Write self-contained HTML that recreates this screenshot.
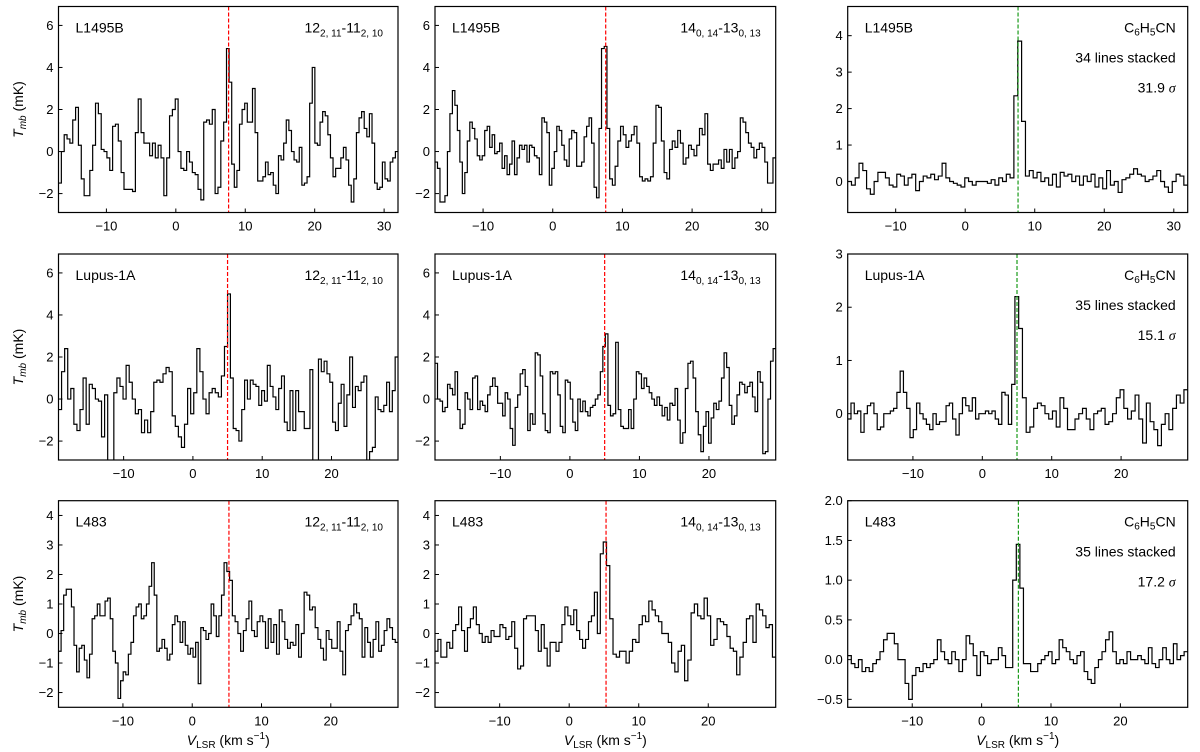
<!DOCTYPE html>
<html><head><meta charset="utf-8"><style>
body{margin:0;background:#fff;}
svg{display:block;font-family:"Liberation Sans","DejaVu Sans",sans-serif;}
</style></head><body>
<svg id="fig" width="1200" height="752" viewBox="0 0 1200 752" xmlns="http://www.w3.org/2000/svg"></svg>
<script>
// ---- data (Tmb in mK) ----
const l1495bLine1 = [-1.5,0,0.8,0.6,0.4,1.5,2.1,0.3,-1.3,-2.1,-2.1,-0.9,0.3,2.3,1.8,0.1,0,-0.3,-0.9,1.2,1.3,0.5,-1.0,-1.8,-1.8,-1.8,-1.9,0.9,2.5,0.9,0.4,0.4,-0.2,0.4,-0.3,0.3,-0.3,-2.1,-0.3,1.7,2.0,2.5,0,-0.8,-0.9,0,-0.5,-1.0,-1.1,-1.8,-2.3,1.4,1.5,1.3,2.0,-2.0,-1.7,0.5,1.4,4.9,3.3,-0.6,-1.7,-0.9,1.3,2.0,2.3,1.4,1.4,3.0,0.9,-1.4,-1.4,-1.2,-0.5,-1.1,-1.0,-1.6,-2.0,-0.2,-0.4,0.4,1.5,1.0,0,-0.4,-0.5,0.2,-1.6,-1.5,-1.2,2.3,4.0,0.4,0.3,1.4,1.9,1.7,0.8,-0.3,-1.2,-0.8,-0.8,-0.3,0.2,-0.4,-1.6,-2.4,-1.3,0.9,1.6,1.9,1.1,0.7,1.8,0.4,-1.5,-1.8,-1.7,-0.5,-1.3,-1.4,-0.5,-0.3,0];
const l1495bLine2 = [-0.5,-0.8,-2.4,-2.4,-2.1,0,1.8,2.9,2.2,1.0,-0.5,-2.0,-1.0,0.5,1.4,1.1,0.6,-0.2,-0.4,-0.2,1.0,1.2,0.2,0.8,-0.1,0,0.4,-0.8,-0.2,-1.1,-0.6,0.5,-1.1,-0.3,0.3,0.1,0.3,-0.5,0.3,0.2,-0.2,-0.3,-1.1,1.6,1.4,0.9,-1.6,-0.8,0,1.2,1.0,0.3,-0.4,-0.7,0.6,1.0,0.9,-0.7,-0.7,-0.5,0.7,1.2,1.6,0.4,-1.7,-2.2,1.1,4.9,5.0,1.1,-1.3,-1.6,-0.7,0.5,1.2,0.8,0.2,0.5,0.8,1.2,0.4,-1.2,-1.4,-1.3,-1.4,-1.2,0.4,2.2,2.1,0.5,-1.0,-1.3,0.1,0.5,0.2,1.0,0.4,-0.6,-0.3,0.3,0.1,-0.2,0.3,1.1,0.8,1.8,-0.6,-0.9,-0.6,-0.6,-0.4,-0.8,0.1,-0.5,0.1,-0.8,-0.3,0,1.6,1.4,0.9,0.4,0.2,-0.3,0.1,0.4,0.2,-0.5,-1.5,-1.5,-0.3];
const l1495bStack = [0.0,-0.1,0.1,0.5,0.3,-0.2,-0.35,0.0,0.25,0.25,0.1,-0.1,-0.15,0.2,0.15,-0.1,0.1,0.2,-0.25,0.0,0.15,0.1,0.2,0.05,0.15,0.5,0.1,0.0,-0.05,-0.1,-0.15,0.1,0.0,-0.1,0.0,0.0,0.0,-0.05,0.05,-0.1,0.1,0.0,0.2,0.1,2.35,3.85,1.65,0.15,0.3,0.1,0.25,0.0,0.1,-0.1,0.2,-0.15,0.25,0.15,0.2,0.0,0.15,-0.1,0.15,0.0,0.2,-0.15,0.1,-0.2,0.3,-0.1,0.0,-0.3,0.05,0.1,0.2,0.35,0.2,0.15,0.0,0.05,0.15,0.3,0.0,-0.15,-0.3,0.0,0.2,0.15,-0.1];
const lupusLine1 = [-0.5,1.3,2.4,0,0.5,-1.2,-1.5,-0.5,1.0,-1.2,0.7,0.5,0.0,-0.1,-1.8,0.2,-4,-4,0.3,1.0,0.6,0.0,1.6,0.8,0.0,-0.7,-0.5,-1.6,-1.0,-1.6,-0.6,0.8,0.9,0.8,1.2,1.5,1.3,-0.8,-1.3,-1.8,-2.3,-1.2,0.5,-0.7,0.3,2.4,1.3,0.0,-0.7,0.3,0.5,0.3,0.1,1.1,2.5,5.0,1.0,-1.4,-1.5,-2.0,-0.5,0.9,0.0,0.9,0.7,0.6,-0.3,0.4,-0.1,1.6,0.6,0.1,-0.5,0.5,1.1,-1.1,-1.5,0.4,-1.5,0.4,-0.6,-0.6,-1.4,-1.4,1.4,-4,-4,1.9,1.3,1.8,1.2,0.8,-1.1,-1.5,-0.2,0.7,-1.3,0.2,2.0,-0.4,0.6,0.4,0.8,1.1,-4,-2.5,-2.3,0.1,-0.5,-0.6,-0.3,0.8,-0.6,0.4,2.0];
const lupusLine2 = [1.7,0.0,-0.1,-0.6,-0.4,0.7,0.5,0.2,1.3,-0.5,-1.4,-1.2,0.3,0.0,-0.5,1.0,1.1,-0.5,-0.1,-0.3,-0.6,0.2,0.6,1.0,0.6,-0.2,-0.2,-0.8,0.3,0.0,-1.4,-2.2,-0.4,0.2,1.2,1.4,0.6,-1.5,-0.7,-1.2,2.2,2.1,1.1,-0.7,-1.5,-1.6,1.3,1.2,1.3,0.2,-1.3,-1.6,0.9,0.8,0.0,-1.1,-1.5,0.0,-0.6,-0.1,-0.6,-0.8,-0.4,-0.3,0.0,0.2,1.3,2.5,3.1,-0.3,-0.8,-0.7,2.7,-0.5,-1.3,-1.4,-1.4,-0.5,-1.4,0.0,1.3,1.2,0.5,1.0,0.6,0.3,0.0,-0.3,0.1,-0.3,-0.8,-0.4,-1.0,-0.2,-0.3,0.5,-1.0,-2.1,-1.6,0.5,1.7,1.8,1.0,-0.6,-1.7,-2.5,-1.3,-0.6,-2.1,-0.9,-0.2,-0.5,-0.1,1.0,2.2,1.5,-0.3,-1.2,-0.8,0.2,0.8,0.7,0.3,0.6,0.8,0.1,-0.6,1.3,0.8,-2.6,-2.5,0.0,1.8,2.4];
const lupusStack = [-0.1,0.2,0.0,0.05,-0.35,0.0,0.15,0.2,0.0,-0.3,-0.25,0.0,0.0,0.05,0.1,0.4,0.8,0.4,0.1,-0.45,-0.3,0.2,0.0,-0.1,-0.2,-0.3,0.0,-0.2,-0.15,-0.15,0.15,0.2,-0.1,-0.4,0.0,0.3,0.15,0.05,0.3,-0.1,0.0,0.0,0.05,0.0,0.05,-0.1,-0.2,0.4,0.35,-0.2,0.55,2.2,1.6,0.3,-0.35,-0.25,0.1,0.2,0.15,0.0,-0.1,0.05,-0.25,0.3,0.1,-0.3,-0.3,-0.1,0.0,0.1,-0.1,-0.3,0.0,0.05,0.1,-0.2,-0.15,0.0,0.3,0.45,0.1,-0.1,0.05,0.35,-0.1,-0.55,0.2,-0.15,-0.3,-0.6,-0.2,0.0,-0.3,0.1,0.35,0.2,0.45];
const l483Line1 = [-0.6,0.1,1.3,1.5,1.5,0.9,-0.4,-1.3,-0.5,-0.4,-0.9,-1.5,-0.7,0.5,0.6,1.0,0.6,0.6,1.1,1.2,0.5,-0.6,-1.0,-2.2,-1.6,-1.3,-1.4,-0.7,-0.3,0.6,0.9,1.0,0.5,0.6,1.0,1.6,2.4,1.3,-0.6,-0.5,-0.2,-0.5,-0.9,-0.7,0.3,0.6,0.4,-0.3,0.4,-0.4,-0.7,-0.5,-0.8,-0.3,-1.7,0.2,0.1,-0.2,0.0,1.0,0.6,-0.1,0.6,1.3,2.4,2.1,1.8,0.6,0.4,0.0,-0.6,0.1,0.5,1.1,0.1,-0.1,0.4,0.6,0.4,-0.5,0.5,-0.3,0.3,-0.7,0.8,0.4,-0.2,-0.5,-0.3,-0.4,0.3,-0.8,0.0,1.4,1.3,0.8,0.9,0.2,-0.2,-0.5,-0.9,0.1,-0.2,-0.5,-0.5,0.4,-0.6,-1.4,0.1,0.3,0.6,1.0,0.7,0.5,-0.8,0.2,-0.3,-0.8,-0.2,0.4,-0.6,-0.4,0.1,0.5,0.2,-0.2,-0.3];
const l483Line2 = [-0.6,-0.2,-0.8,-0.8,-0.3,-0.5,0.1,0.3,0.9,0.1,-0.6,0.2,0.5,0.9,0.3,0.0,-0.3,-0.1,-0.3,0.1,-0.1,-0.1,0.3,0.2,-0.2,-0.1,0.4,-0.5,-1.2,-1.1,0.5,0.6,0.6,0.6,0.1,-0.6,0.3,-0.5,-1.1,-0.3,-0.3,-0.6,-0.3,0.3,0.9,0.6,0.3,0.8,0.1,-0.2,-0.5,-0.2,0.4,0.6,1.4,0.0,2.7,3.1,2.3,0.5,-0.7,-0.8,-0.6,-0.6,-1.0,-0.6,-0.2,-0.3,0.3,0.6,0.4,1.1,0.8,0.6,0.4,0.0,0.0,-0.3,-1.0,-1.3,-0.6,-0.4,-1.6,-0.9,0.7,1.0,0.6,0.5,1.2,0.6,-0.4,-0.2,0.5,0.4,0.3,-0.1,-0.5,-0.6,-1.4,-0.8,-0.3,0.5,0.6,-0.3,1.0,0.8,0.6,0.2,0.3,-0.8];
const l483Stack = [0.05,-0.05,-0.1,0.0,-0.15,-0.1,-0.15,-0.05,0.0,0.1,0.25,0.33,0.33,0.2,0.0,0.0,-0.3,-0.5,-0.2,-0.1,-0.15,-0.05,-0.1,-0.05,0.0,0.25,0.1,0.0,-0.05,0.1,0.0,-0.15,0.0,0.3,0.2,0.05,-0.2,0.1,0.05,-0.05,0.0,0.0,0.15,0.05,-0.1,-0.1,1.0,1.45,0.9,-0.05,-0.05,-0.15,-0.15,-0.05,0.0,0.05,0.1,-0.05,0.0,0.25,0.15,0.1,0.0,-0.05,0.05,0.1,-0.15,-0.25,-0.3,-0.1,0.0,0.1,0.25,0.35,0.1,-0.05,0.0,-0.05,0.1,0.0,0.0,0.05,0.0,-0.05,0.15,-0.05,-0.1,0.0,0.15,0.0,-0.05,0.2,0.0,0.05,0.1];

// anchor channel (peak channel index) and the velocity of its left edge, per panel
const anchorChannel = [[59,67,44],[55,68,51],[64,57,47]];
const anchorVelocity = [[7.3,7.0,7.0],[5.0,5.1,4.7],[4.6,4.9,5.0]];

const sources = ["L1495B","Lupus-1A","L483"];
const sourceVlsr = [7.6, 5.0, 5.3];
const xRanges = [[-16.9,32.0],[-19.4,29.6],[-19.3,29.7]];
const xTicksRow = [[-10,0,10,20,30],[-10,0,10,20],[-10,0,10,20]];
const yRanges = [[[-2.9,6.9],[-2.9,6.9],[-0.85,4.8]],[[-2.9,6.9],[-2.9,6.9],[-0.87,3.0]],[[-2.5,4.5],[-2.5,4.5],[-0.6,2.0]]];
const yTicks = [[[-2,0,2,4,6],[-2,0,2,4,6],[0,1,2,3,4]],[[-2,0,2,4,6],[-2,0,2,4,6],[0,1,2,3]],[[-2,-1,0,1,2,3,4],[-2,-1,0,1,2,3,4],[-0.5,0,0.5,1,1.5,2]]];
const stackCounts = ["34","35","35"];
const stackSigma = ["31.9","15.1","17.2"];
const spectra = [[l1495bLine1,l1495bLine2,l1495bStack],[lupusLine1,lupusLine2,lupusStack],[l483Line1,l483Line2,l483Stack]];

// ---- layout ----
const colX = [[58.5,398],[435,775.7],[847.7,1187.7]];
const rowY = [[6.5,212.5],[254,460],[500.7,707.3]];
const NS="http://www.w3.org/2000/svg";
const svg=document.getElementById('fig');
function mk(tag,attrs,parent){const e=document.createElementNS(NS,tag);for(const k in attrs)e.setAttribute(k,attrs[k]);(parent||svg).appendChild(e);return e;}
function txt(parent,x,y,s,anchor,size){const t=mk('text',{x:x,y:y,'font-size':size||13,'text-anchor':anchor||'middle',fill:'#000'},parent);t.textContent=s;return t;}
function fmtTick(v,dec){ if(dec){return (v<0?'\u2212':'')+Math.abs(v).toFixed(1);} return (v<0?'\u2212':'')+Math.abs(v); }

for(let r=0;r<3;r++){
  for(let c=0;c<3;c++){
    const [x0,x1]=colX[c],[y0,y1]=rowY[r];
    const [vmin,vmax]=xRanges[r],[tmin,tmax]=yRanges[r][c];
    const X=v=>x0+(v-vmin)/(vmax-vmin)*(x1-x0);
    const Y=t=>y1-(t-tmin)/(tmax-tmin)*(y1-y0);
    const g=mk('g',{});
    
    
    const cid='clip'+r+c;
    const cp=mk('clipPath',{id:cid},g);mk('rect',{x:x0,y:y0,width:x1-x0,height:y1-y0},cp);
    // spectrum: channel edges anchored at the peak channel
    const data=spectra[r][c];const n=data.length;
    const a=anchorChannel[r][c],va=anchorVelocity[r][c];
    const dL=(va-vmin)/a,dR=(vmax-va)/(n-a);
    const edge=i=> i<=a ? va-(a-i)*dL : va+(i-a)*dR;
    let d='';
    for(let i=0;i<n;i++){const xa=X(edge(i)),xb=X(edge(i+1)),yy=Y(data[i]);d+=(i===0?'M':'L')+xa.toFixed(2)+','+yy.toFixed(2)+'L'+xb.toFixed(2)+','+yy.toFixed(2);}
    const p=mk('path',{d:d,fill:'none',stroke:'#000','stroke-width':1.2,'clip-path':'url(#'+cid+')'},g);
    
    
    const vx=X(sourceVlsr[r]);
    const vl=mk('line',{x1:vx,x2:vx,y1:y0,y2:y1,stroke:c===2?'#1a9a1a':'#ff0000','stroke-width':1.2,'stroke-dasharray':'4,2'},g);
    
    
    const fr=mk('rect',{x:x0,y:y0,width:x1-x0,height:y1-y0,fill:'none',stroke:'#000','stroke-width':1.2},g);
    
    
    xTicksRow[r].forEach(v=>{const xx=X(v);mk('line',{x1:xx,x2:xx,y1:y1,y2:y1-4,stroke:'#000','stroke-width':1},g);
      const t=txt(g,xx,y1+18,fmtTick(v,false),'middle',13);
      
      });
    yTicks[r][c].forEach(v=>{const yy=Y(v);mk('line',{x1:x0,x2:x0+4,y1:yy,y2:yy,stroke:'#000','stroke-width':1},g);
      const t=txt(g,x0-5,yy+4.5,fmtTick(v,r===2&&c===2),'end',13);
      
      });
    const sl=txt(g,x0+17,y0+26,sources[r],'start',14);
    
    
    if(c<2){
      const t=mk('text',{x:x1-15,y:y0+26,'font-size':14,'text-anchor':'end'},g);
      
      
      const parts=c===0?[['12',0],['2, 11',1],['-11',0],['2, 10',1]]:[['14',0],['0, 14',1],['-13',0],['0, 13',1]];
      parts.forEach(([s,sub])=>{const ts=mk('tspan',sub?{'font-size':10,dy:4}:{'dy':-4},t);ts.textContent=s;});
      t.firstChild.setAttribute('dy',0);
    } else {
      const t=mk('text',{x:x1-12,y:y0+26,'font-size':14,'text-anchor':'end'},g);
      
      
      [['C',0],['6',1],['H',-1],['5',1],['CN',-1]].forEach(([s,sub])=>{const at={};if(sub===1){at['font-size']=10;at.dy=3;}else if(sub===-1){at.dy=-3;}const ts=mk('tspan',at,t);ts.textContent=s;});
      const t2=txt(g,x1-12,y0+56,stackCounts[r]+' lines stacked','end',14);
      
      
      const t3=mk('text',{x:x1-12,y:y0+86,'font-size':14,'text-anchor':'end'},g);
      
      
      const s1=mk('tspan',{},t3);s1.textContent=stackSigma[r]+' ';
      const s2=mk('tspan',{'font-style':'italic','font-family':'"Liberation Serif",serif'},t3);s2.textContent='\u03c3';
    }
    if(c===0){
      const cy=(y0+y1)/2;
      const t=mk('text',{x:0,y:0,'font-size':14,'text-anchor':'middle',transform:'translate(23,'+cy+') rotate(-90)'},svg);
      
      
      const s1=mk('tspan',{'font-style':'italic'},t);s1.textContent='T';
      const s2=mk('tspan',{'font-style':'italic','font-size':10,dy:3},t);s2.textContent='mb';
      const s3=mk('tspan',{dy:-3},t);s3.textContent=' (mK)';
    }
    if(r===2){
      const t=mk('text',{x:(x0+x1)/2,y:745,'font-size':14,'text-anchor':'middle'},svg);
      
      
      const s1=mk('tspan',{'font-style':'italic'},t);s1.textContent='V';
      const s2=mk('tspan',{'font-size':10,dy:3},t);s2.textContent='LSR';
      const s3=mk('tspan',{dy:-3},t);s3.textContent=' (km s';
      const s4=mk('tspan',{'font-size':10,dy:-6},t);s4.textContent='\u22121';
      const s5=mk('tspan',{dy:6},t);s5.textContent=')';
    }
  }
}
</script>
</body></html>
